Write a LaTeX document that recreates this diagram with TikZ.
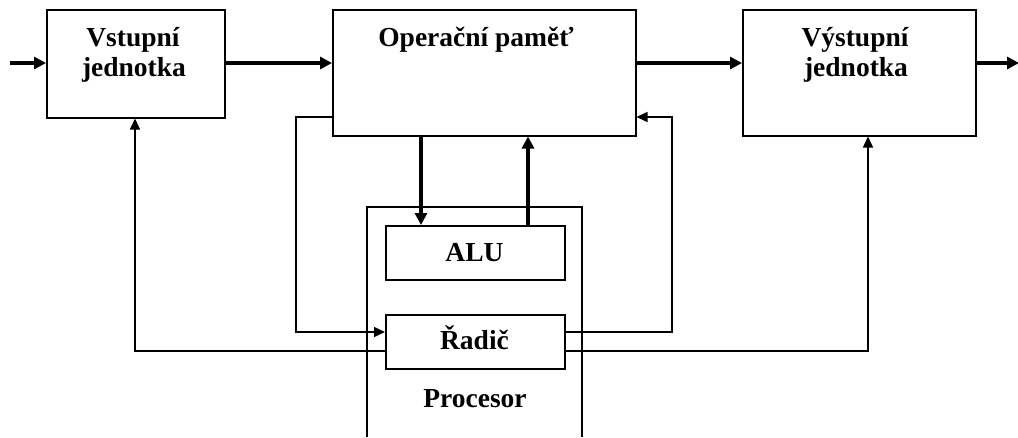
\documentclass[tikz,border=0pt]{standalone}
\usepackage{fontspec}
\setmainfont{Liberation Serif}
\usetikzlibrary{arrows.meta}
\begin{document}
\begin{tikzpicture}[x=1pt,y=-1pt,
  box/.style={draw, line width=1.5pt, rectangle, anchor=north west, inner sep=0pt},
  lbl/.style={font=\fontsize{27.5}{31}\selectfont\bfseries, anchor=base, inner sep=0pt},
  thinarrow/.style={line width=1.5pt, -{Triangle[length=11pt,width=10pt]}},
  thickarrow/.style={line width=3.8pt, -{Triangle[length=12pt,width=12pt]}},
  thinline/.style={line width=1.5pt}]
\useasboundingbox (0,0) rectangle (1018,437);
% boxes
\node[box, minimum width=178pt, minimum height=108pt] (vst) at (46,9) {};
\node[box, minimum width=303pt, minimum height=126pt] (op) at (332,9) {};
\node[box, minimum width=233pt, minimum height=126pt] (vys) at (742,9) {};
\node[box, minimum width=179pt, minimum height=54pt] (alu) at (385,225) {};
\node[box, minimum width=179pt, minimum height=54pt] (rad) at (385,314) {};
% processor frame (open at the bottom)
\draw[thinline] (367,437) -- (367,207) -- (582,207) -- (582,437);
% labels
\node[lbl] (vst1) at (133,46) {Vstupní};
\node[lbl] (vst2) at (134,76) {jednotka};
\node[lbl] (op1) at (476,46) {Operační paměť};
\node[lbl] (vys1) at (855,46) {Výstupní};
\node[lbl] (vys2) at (856,76) {jednotka};
\node[lbl] (alu1) at (474.5,261) {ALU};
\node[lbl] (rad1) at (474.5,349) {Řadič};
\node[lbl] (proc) at (475,407) {Procesor};
% coordinates
\coordinate (inL) at (10,63);
\coordinate (outR) at (1019,63);
\coordinate (d1) at (421,135);
\coordinate (u1) at (528,225);
\coordinate (lf) at (296,117);
\coordinate (rf) at (672,117);
\coordinate (bl) at (135,351);
\coordinate (br) at (868,351);
% top chain
\draw[thickarrow] (inL) -- (inL -| vst.west);
\draw[thickarrow] (inL -| vst.east) -- (inL -| op.west);
\draw[thickarrow] (inL -| op.east) -- (inL -| vys.west);
\draw[thickarrow] (inL -| vys.east) -- (outR);
% memory <-> ALU
\draw[thickarrow] (d1) -- (d1 |- alu.north);
\draw[thickarrow] (u1) -- (u1 |- op.south);
% feedback loops
\draw[thinarrow] (lf -| op.west) -- (lf) -- (lf |- 0,332) -- (rad.west |- 0,332);
\draw[thinarrow] (rad.east |- 0,332) -- (rf |- 0,332) -- (rf) -- (rf -| op.east);
% control lines to I/O units
\draw[thinarrow] (rad.west |- bl) -- (bl) -- (bl |- vst.south);
\draw[thinarrow] (rad.east |- br) -- (br) -- (br |- vys.south);
\end{tikzpicture}
\end{document}
